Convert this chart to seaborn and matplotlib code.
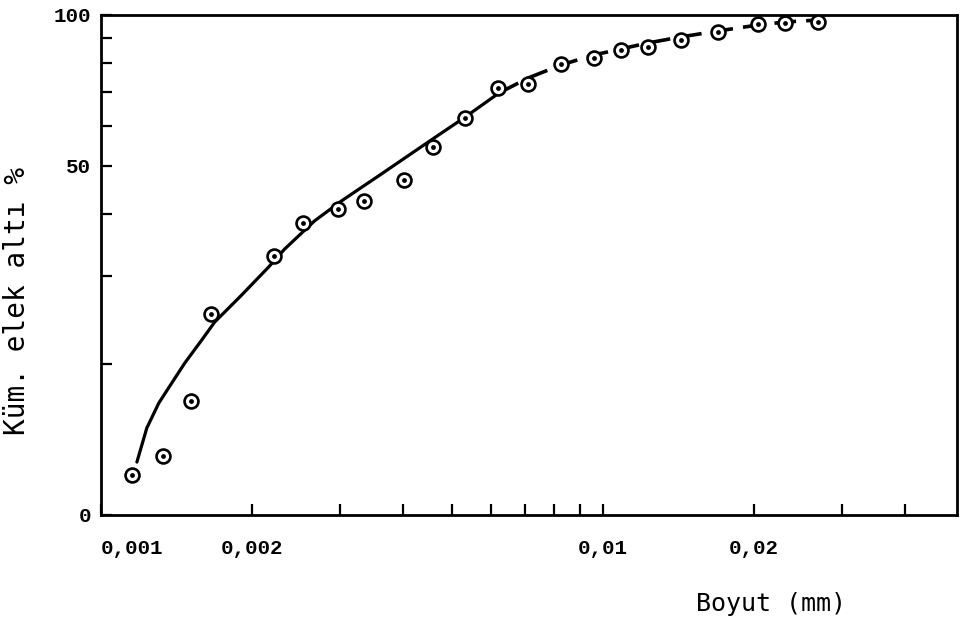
import matplotlib
matplotlib.use("Agg")
import matplotlib.pyplot as plt
import seaborn as sns
import pandas as pd
from matplotlib.ticker import FixedLocator, FixedFormatter, NullLocator

# measured points (size in mm, cumulative undersize %)
size_mm = [0.001153, 0.001328, 0.00151, 0.001655, 0.002208, 0.002523, 0.002971,
           0.00335, 0.00402, 0.00459, 0.00532, 0.00618, 0.0071, 0.00825, 0.0096,
           0.01086, 0.01229, 0.01429, 0.01694, 0.0204, 0.0231, 0.0269]
undersize = [12.0, 13.1, 16.9, 25.2, 33.0, 38.4, 40.9, 42.5, 46.8, 54.5, 62.2,
             71.5, 72.8, 79.8, 82.0, 85.1, 86.3, 89.1, 92.5, 95.9, 96.4, 96.8]

# hand-drawn fitted curve (solid part, then dashed part)
curve_solid_x = [0.001179, 0.001234, 0.001304, 0.001384, 0.001469, 0.001588,
                 0.001685, 0.001907, 0.002158, 0.002323, 0.002663, 0.003013,
                 0.00362, 0.00455, 0.00532, 0.00621]
curve_solid_y = [12.76, 14.93, 16.75, 18.37, 20.14, 22.39, 24.32, 27.54, 31.33,
                 34.04, 38.73, 42.46, 48.08, 56.23, 62.52, 69.82]
curve_dash_x = [0.00621, 0.0071, 0.00825, 0.0096, 0.01086, 0.01229, 0.01429,
                0.01694, 0.0204, 0.0231, 0.0269]
curve_dash_y = [69.82, 74.82, 79.43, 83.18, 85.51, 87.90, 90.36, 92.90, 95.50,
                96.83, 97.72]

x_ticks = [0.001, 0.002, 0.003, 0.004, 0.005, 0.006, 0.007, 0.008, 0.009,
           0.01, 0.02, 0.03, 0.04]
x_tick_labels = ["0,001", "0,002", "", "", "", "", "", "", "", "0,01", "0,02", "", ""]
y_ticks = [10, 20, 30, 40, 50, 60, 70, 80, 90, 100]
y_tick_labels = ["0", "", "", "", "50", "", "", "", "", "100"]

x_label = "Boyut (mm)"
y_label = "Küm. elek altı %"

sns.set_theme(style="white")
plt.rcParams["font.family"] = ["DejaVu Sans Mono", "DejaVu Sans"]

fig = plt.figure(figsize=(9.64, 6.31), dpi=100)
ax = fig.add_axes([101 / 964, 1 - 515 / 631, 856 / 964, 500 / 631])

solid_df = pd.DataFrame({"x": curve_solid_x, "y": curve_solid_y})
dash_df = pd.DataFrame({"x": curve_dash_x, "y": curve_dash_y})
pts_df = pd.DataFrame({"x": size_mm, "y": undersize})

sns.lineplot(data=solid_df, x="x", y="y", ax=ax, color="black", linewidth=2.3,
             sort=False, estimator=None, zorder=2)
sns.lineplot(data=dash_df, x="x", y="y", ax=ax, color="black", linewidth=2.6,
             sort=False, estimator=None, zorder=2)
ax.lines[-1].set_dashes((6, 2.8))
sns.scatterplot(data=pts_df, x="x", y="y", ax=ax, s=100, facecolor="white",
                edgecolor="black", linewidth=1.9, zorder=3)
sns.scatterplot(data=pts_df, x="x", y="y", ax=ax, s=12, color="black",
                linewidth=0, zorder=4)

ax.set_xscale("log")
ax.set_yscale("log")
ax.set_xlim(0.001, 0.0508)
ax.set_ylim(10, 100)

ax.xaxis.set_major_locator(FixedLocator(x_ticks))
ax.xaxis.set_major_formatter(FixedFormatter(x_tick_labels))
ax.xaxis.set_minor_locator(NullLocator())
ax.yaxis.set_major_locator(FixedLocator(y_ticks))
ax.yaxis.set_major_formatter(FixedFormatter(y_tick_labels))
ax.yaxis.set_minor_locator(NullLocator())

ax.tick_params(axis="x", direction="in", length=8, width=1.6, pad=17,
               bottom=True, labelsize=15, colors="black")
ax.tick_params(axis="y", direction="in", length=8, width=1.6, pad=7,
               left=True, labelsize=15, colors="black")
for lab in ax.get_xticklabels() + ax.get_yticklabels():
    lab.set_fontfamily("Liberation Mono")
    lab.set_fontweight("bold")
ax.get_xticklabels()[0].set_ha("left")

for sp in ax.spines.values():
    sp.set_visible(True)
    sp.set_color("black")
    sp.set_linewidth(2.0)
ax.grid(False)

ax.set_xlabel(x_label, fontsize=18, color="black")
ax.xaxis.set_label_coords(0.783, -0.155)
ax.set_ylabel(y_label, fontsize=20, color="black")
ax.yaxis.set_label_coords(-0.082, 0.428)

fig.savefig("out.png", dpi=100, facecolor="white")
